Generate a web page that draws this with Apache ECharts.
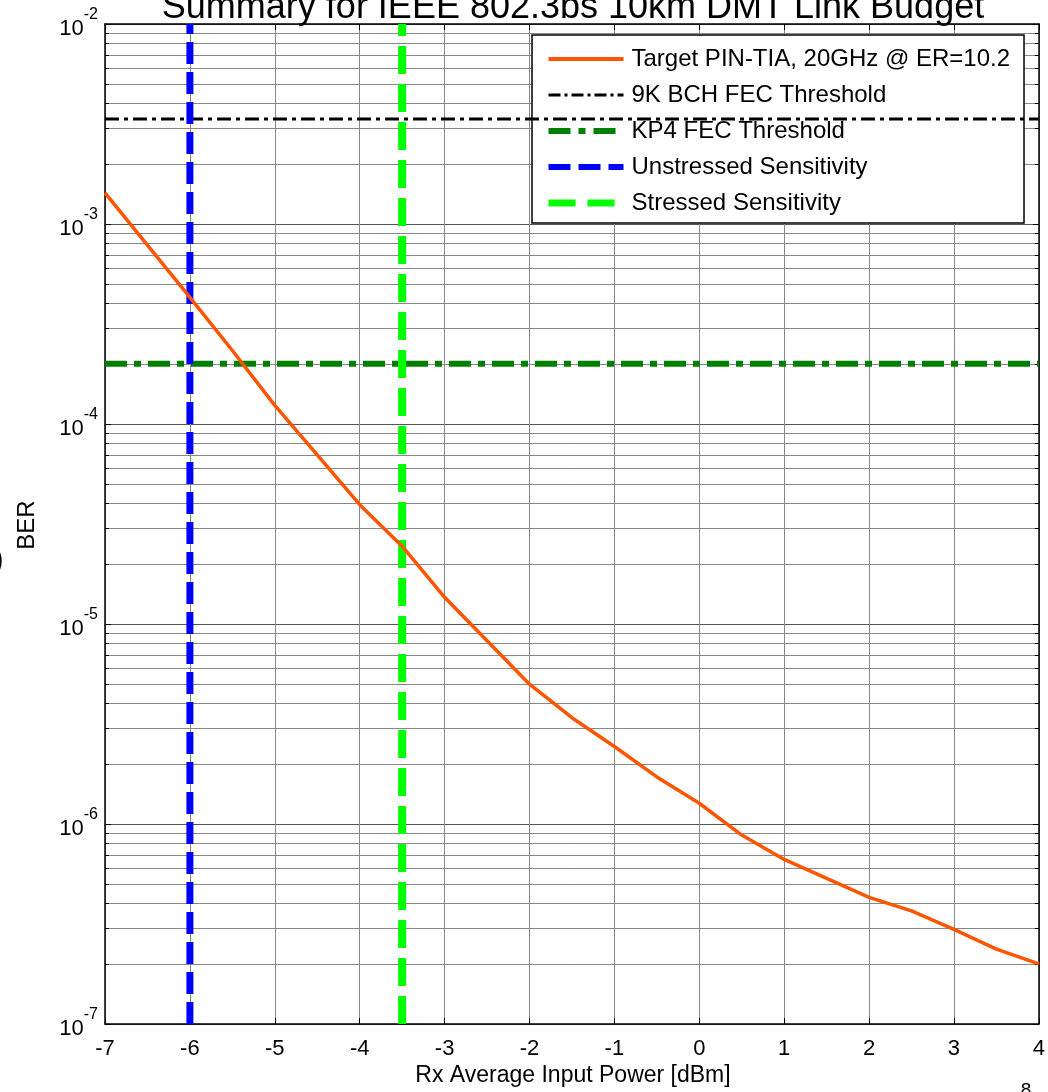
<!DOCTYPE html>
<html><head><meta charset="utf-8">
<script src="https://cdn.jsdelivr.net/npm/echarts@6/dist/echarts.min.js"></script>
<style>html,body{margin:0;padding:0;background:#fff;} #c{width:1048px;height:1092px;}</style>
</head><body><div id="c"></div>
<script>
// ---- data ----
const powerDbm = [-7, -6, -5.5, -5, -4.5, -4, -3.5, -3, -2, -1.5, -1, -0.5, 0, 0.5, 1, 1.5, 2, 2.5, 3, 3.5, 4];
const berTarget = [1.43e-3, 4.3e-4, 2.33e-4, 1.24e-4, 7.0e-5, 3.95e-5, 2.45e-5, 1.36e-5, 5.0e-6, 3.4e-6, 2.44e-6, 1.72e-6, 1.27e-6, 8.8e-7, 6.65e-7, 5.35e-7, 4.3e-7, 3.68e-7, 2.97e-7, 2.37e-7, 2.0e-7];
const bchThreshold = 3.35e-3;
const kp4Threshold = 2e-4;
const unstressedSens = -6;
const stressedSens = -3.5;
const xRange = [-7, 4];
const yRange = [1e-7, 1e-2];
const seriesNames = ['Target PIN-TIA, 20GHz @ ER=10.2', '9K BCH FEC Threshold', 'KP4 FEC Threshold', 'Unstressed Sensitivity', 'Stressed Sensitivity'];
const titleText = 'Summary for IEEE 802.3bs 10km DMT Link Budget';
const xAxisName = 'Rx Average Input Power [dBm]';
const yAxisName = 'BER';

const FONT = 'Liberation Sans, Arial, Helvetica, sans-serif';
const chart = echarts.init(document.getElementById('c'), null, {renderer: 'canvas'});

const supLabel = v => '{b|10}{s|' + Math.round(Math.log10(v)) + '}';

const baseX = {type: 'value', min: xRange[0], max: xRange[1], interval: 1};
const baseY = {type: 'log', logBase: 10, min: yRange[0], max: yRange[1], splitNumber: 5};
const tickStyle = {inside: true, length: 6, lineStyle: {color: '#000', width: 1}};
const lineAxis = {onZero: false, lineStyle: {color: '#000', width: 1.5}};

const styles = [
  {color: '#ff5500', width: 3.5, type: 'solid'},
  {color: '#000000', width: 3, type: [14, 5, 4, 5]},
  {color: '#007f00', width: 6, type: [22, 7, 7, 7]},
  {color: '#0000ff', width: 7, type: [22, 8]},
  {color: '#00ff00', width: 8, type: [28, 10]}
];
const legendStyles = [
  {color: '#ff5500', width: 4, type: 'solid'},
  {color: '#000000', width: 3, type: [12, 4, 3, 4]},
  {color: '#007f00', width: 6, type: [22, 8, 7, 8]},
  {color: '#0000ff', width: 6, type: [22, 8]},
  {color: '#00ff00', width: 7, type: [27, 12]}
];

const option = {
  backgroundColor: '#fff',
  animation: false,
  textStyle: {fontFamily: FONT},
  grid: {left: 105, right: 6, top: 24, bottom: 68, containLabel: false},
  xAxis: [
    Object.assign({}, baseX, {
      position: 'bottom', axisLine: lineAxis, axisTick: tickStyle,
      axisLabel: {fontSize: 22, color: '#000', margin: 14, fontFamily: FONT},
      splitLine: {show: true, lineStyle: {color: '#888', width: 1}}
    }),
    Object.assign({}, baseX, {
      position: 'top', axisLine: lineAxis, axisTick: tickStyle,
      axisLabel: {show: false}, splitLine: {show: false}
    })
  ],
  yAxis: [
    Object.assign({}, baseY, {
      position: 'left', axisLine: lineAxis, axisTick: tickStyle,
      minorTick: {show: true, splitNumber: 9, length: 4, lineStyle: {color: '#000', width: 1}},
      axisLabel: {
        margin: 7, color: '#000', formatter: supLabel,
        rich: {
          b: {fontSize: 22, fontFamily: FONT, color: '#000', padding: [10, 0, 0, 0]},
          s: {fontSize: 16, fontFamily: FONT, color: '#000', padding: [0, 0, 19, 0]}
        }
      },
      splitLine: {show: true, lineStyle: {color: '#555', width: 1}},
      minorSplitLine: {show: true, lineStyle: {color: '#888', width: 1}}
    }),
    Object.assign({}, baseY, {
      position: 'right', axisLine: lineAxis, axisTick: tickStyle,
      minorTick: {show: true, splitNumber: 9, length: 4, lineStyle: {color: '#000', width: 1}},
      axisLabel: {show: false}, splitLine: {show: false}
    })
  ],
  legend: {
    left: 532, top: 35, orient: 'vertical',
    padding: [12, 14, 8, 13],
    itemWidth: 75, itemHeight: 14, itemGap: 12,
    backgroundColor: '#fff', borderColor: '#000', borderWidth: 1.5,
    textStyle: {fontSize: 24, color: '#000', fontFamily: FONT, padding: [0, 0, 0, 3]},
    itemStyle: {opacity: 0},
    data: seriesNames.map((n, i) => ({name: n, itemStyle: {opacity: 0}, lineStyle: legendStyles[i]}))
  },
  series: seriesNames.map((n, i) => {
    let data;
    if (i === 0) data = powerDbm.map((x, k) => [x, berTarget[k]]);
    else if (i === 1) data = [[xRange[0], bchThreshold], [xRange[1], bchThreshold]];
    else if (i === 2) data = [[xRange[0], kp4Threshold], [xRange[1], kp4Threshold]];
    else if (i === 3) data = [[unstressedSens, yRange[0]], [unstressedSens, yRange[1]]];
    else data = [[stressedSens, yRange[0]], [stressedSens, yRange[1]]];
    return {
      name: n, type: 'line', z: i === 0 ? 10 : (i < 3 ? 4 : 5),
      symbol: 'none', showSymbol: false, data: data,
      lineStyle: styles[i], itemStyle: {color: styles[i].color}
    };
  }),
  graphic: [
    {type: 'text', x: 573, y: 8, style: {text: titleText, fontSize: 36, fontFamily: FONT, fill: '#000', align: 'center', verticalAlign: 'middle'}},
    {type: 'text', x: 573, y: 1076, style: {text: xAxisName, fontSize: 23, fontFamily: FONT, fill: '#000', align: 'center', verticalAlign: 'middle'}},
    {type: 'text', x: 27, y: 525, rotation: Math.PI / 2, style: {text: yAxisName, fontSize: 24, fontFamily: FONT, fill: '#000', align: 'center', verticalAlign: 'middle'}},
    {type: 'text', x: 1026, y: 1091, style: {text: '8', fontSize: 19, fontFamily: FONT, fill: '#000', align: 'center', verticalAlign: 'middle'}},
    {type: 'text', x: -7, y: 560, style: {text: ')', fontSize: 32, fontFamily: FONT, fill: '#000', align: 'left', verticalAlign: 'middle'}}
  ]
};
chart.setOption(option);
</script>
</body></html>
